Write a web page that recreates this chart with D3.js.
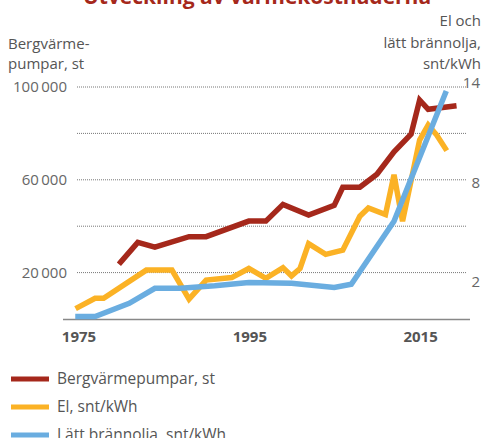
<!DOCTYPE html>
<html>
<head>
<meta charset="utf-8">
<script src="https://cdn.jsdelivr.net/npm/d3@7"></script>
<style>
  body { margin: 0; background: #fff; }
  svg { font-family: "Open Sans", "Noto Sans", sans-serif; }
</style>
</head>
<body>
<script>
// values
var heatPumpYears = [1980, 1982, 1984, 1988, 1990, 1995, 1997, 1999, 2002, 2005, 2006, 2008, 2010, 2012, 2014, 2015, 2016, 2019];
var heatPumpValues = [24500, 33000, 31000, 35500, 35500, 42200, 42200, 49400, 44800, 49000, 56800, 56800, 62400, 72100, 79700, 94400, 90400, 91800];

var elYears = [1975, 1977, 1978, 1983, 1986, 1988, 1990, 1993, 1995, 1997, 1999, 2000, 2001, 2002, 2004, 2006, 2008, 2009, 2011, 2012, 2013, 2015, 2016, 2017, 2018];
var elValues = [0.7, 1.25, 1.25, 2.95, 2.95, 1.2, 2.35, 2.5, 3.05, 2.45, 3.1, 2.6, 3.05, 4.55, 3.9, 4.15, 6.2, 6.7, 6.3, 8.7, 5.9, 10.8, 11.7, 11.1, 10.3];

var oilYears = [1975, 1977, 1981, 1984, 1987, 1991, 1995, 2000, 2005, 2007, 2012, 2018];
var oilValues = [0.15, 0.15, 0.95, 1.85, 1.85, 2.0, 2.2, 2.15, 1.9, 2.1, 5.9, 13.6];

var leftTicks = [20000, 40000, 60000, 80000, 100000];
var leftLabels = [20000, 60000, 100000];
var rightLabels = [2, 8, 14];
var yearLabels = [1975, 1995, 2015];

var legendNames = ["Bergvärmepumpar, st", "El, snt/kWh", "Lätt brännolja, snt/kWh"];
var colors = ["#a5281b", "#fbb225", "#6aade0"];

var width = 484, height = 438;

var svg = d3.select("body").append("svg")
	.attr("width", width)
	.attr("height", height);

var x = d3.scaleLinear().domain([1975, 2019]).range([78, 453.8]);
var yLeft = d3.scaleLinear().domain([0, 100000]).range([319, 87]);
var yRight = d3.scaleLinear().domain([0, 14]).range([319, 87]);

var fmt = d3.formatLocale({ decimal: ",", thousands: "\u2009", grouping: [3], currency: ["", ""] }).format(",d");

//title, cut off at the top like in the picture
svg.append("text")
	.attr("x", 257).attr("y", 4)
	.attr("text-anchor", "middle")
	.attr("font-size", 21).attr("font-weight", "bold")
	.attr("fill", "#a5281b")
	.text("Utveckling av värmekostnaderna");

//axis titles
svg.append("text").attr("x", 8).attr("y", 49).attr("font-size", 15).attr("fill", "#555").text("Bergvärme-");
svg.append("text").attr("x", 8).attr("y", 69).attr("font-size", 15).attr("fill", "#555").text("pumpar, st");
["El och", "lätt brännolja,", "snt/kWh"].forEach(function(t, i){
	svg.append("text").attr("x", 481).attr("y", 26 + i * 21.5)
		.attr("text-anchor", "end").attr("font-size", 15).attr("fill", "#555").text(t);
});

//dotted gridlines
svg.selectAll(".grid")
	.data(leftTicks)
	.enter()
	.append("line")
	.attr("class", "grid")
	.attr("x1", 77).attr("x2", 467)
	.attr("y1", function(d){ return yLeft(d); })
	.attr("y2", function(d){ return yLeft(d); })
	.attr("stroke", "#777").attr("stroke-width", 1)
	.attr("stroke-dasharray", "1,1");

//baseline
svg.append("line")
	.attr("x1", 63).attr("x2", 470)
	.attr("y1", yLeft(0) + 0.5).attr("y2", yLeft(0) + 0.5)
	.attr("stroke", "#888").attr("stroke-width", 1.5);

//left tick labels
svg.selectAll(".lt")
	.data(leftLabels)
	.enter()
	.append("text")
	.attr("x", 67)
	.attr("y", function(d){ return yLeft(d); })
	.attr("dy", "0.35em")
	.attr("text-anchor", "end")
	.attr("font-size", 15).attr("fill", "#666")
	.text(function(d){ return fmt(d); });

//right tick labels
svg.selectAll(".rt")
	.data(rightLabels)
	.enter()
	.append("text")
	.attr("x", 480)
	.attr("y", function(d){ return yRight(d) - 4; })
	.attr("dy", "0.35em")
	.attr("text-anchor", "end")
	.attr("font-size", 15).attr("fill", "#666")
	.text(function(d){ return d; });

//year labels
svg.selectAll(".yl")
	.data(yearLabels)
	.enter()
	.append("text")
	.attr("x", function(d){ return x(d) + 1; })
	.attr("y", 337)
	.attr("dy", "0.35em")
	.attr("text-anchor", "middle")
	.attr("font-size", 15).attr("font-weight", "bold").attr("fill", "#555")
	.text(function(d){ return d; });

//lines
var lineLeft = d3.line()
	.x(function(d){ return x(d[0]); })
	.y(function(d){ return yLeft(d[1]); });
var lineRight = d3.line()
	.x(function(d){ return x(d[0]); })
	.y(function(d){ return yRight(d[1]); });

var series = [
	{ pts: d3.zip(heatPumpYears, heatPumpValues), gen: lineLeft, color: colors[0] },
	{ pts: d3.zip(elYears, elValues), gen: lineRight, color: colors[1] },
	{ pts: d3.zip(oilYears, oilValues), gen: lineRight, color: colors[2] }
];

svg.selectAll(".series")
	.data(series)
	.enter()
	.append("path")
	.attr("class", "series")
	.attr("fill", "none")
	.attr("stroke", function(d){ return d.color; })
	.attr("stroke-width", 5.5)
	.attr("stroke-linecap", "square")
	.attr("stroke-linejoin", "miter")
	.attr("d", function(d){ return d.gen(d.pts); });

//legend
var legend = svg.selectAll(".legend")
	.data(legendNames)
	.enter()
	.append("g")
	.attr("class", "legend")
	.attr("transform", function(d, i){ return "translate(0," + (379 + i * 28) + ")"; });

legend.append("line")
	.attr("x1", 11).attr("x2", 49)
	.attr("stroke", function(d, i){ return colors[i]; })
	.attr("stroke-width", 5);

legend.append("text")
	.attr("x", 57)
	.attr("dy", "0.35em")
	.attr("font-size", 15.5).attr("fill", "#555")
	.text(function(d){ return d; });
</script>
</body>
</html>
